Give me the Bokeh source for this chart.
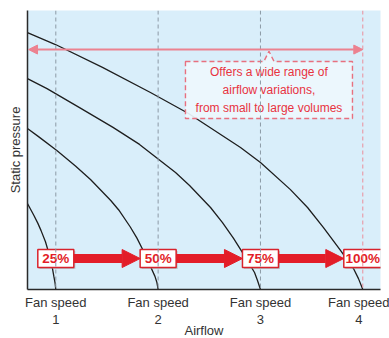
from bokeh.plotting import figure
from bokeh.models import (Range1d, FixedTicker, Arrow, NormalHead, Span,
                          LinearAxis, ColumnDataSource)
from bokeh.core.properties import value
from bokeh.embed import file_html
from bokeh.resources import INLINE

# ---------------- data ----------------
fan_speeds = [1, 2, 3, 4]
fan_tick_labels = ["Fan speed\n1", "Fan speed\n2", "Fan speed\n3", "Fan speed\n4"]
pct_labels = ["25%", "50%", "75%", "100%"]

# fan curves (airflow in fan-speed units, static pressure in % of axis)
curve1_x = [0.723, 0.785, 0.825, 0.856, 0.899, 0.940, 0.968, 0.981, 0.992, 1.0]
curve1_y = [30.8, 26.6, 23.7, 21.1, 17.1, 12.0, 7.4, 4.7, 2.5, 0.0]

curve2_x = [0.723, 0.831, 1.010, 1.192, 1.339, 1.537, 1.615, 1.728, 1.793, 1.855, 1.919, 1.969, 1.988, 2.0]
curve2_y = [57.7, 54.8, 49.8, 44.3, 39.4, 31.9, 28.5, 22.4, 18.4, 13.9, 8.8, 4.7, 2.5, 0.0]

curve3_x = [0.723, 0.914, 1.232, 1.559, 1.818, 2.170, 2.307, 2.512, 2.629, 2.737, 2.854, 2.942, 2.971, 3.0]
curve3_y = [75.6, 72.0, 65.2, 58.1, 52.0, 41.9, 37.3, 29.4, 24.0, 18.3, 11.5, 6.1, 3.2, 0.0]

curve4_x = [0.723, 0.997, 1.456, 1.925, 2.297, 2.805, 3.0, 3.293, 3.460, 3.616, 3.782, 3.909, 3.958, 4.0]
curve4_y = [92.1, 87.8, 79.6, 70.6, 63.1, 50.9, 45.5, 35.8, 29.4, 22.2, 14.0, 7.5, 3.9, 0.0]

callout_text = "Offers a wide range of\nairflow variations,\nfrom small to large volumes"

# ---------------- layout constants ----------------
X0, X1 = 0.7234, 4.173
Y0, Y1 = 0.0, 100.0
label_y = 11.1          # level of the percent boxes / red arrows
range_arrow_y = 86.0    # level of the pink range arrow
FONT = "Liberation Sans"
FRAME_W, FRAME_H = 353, 279
PX_PER_X = FRAME_W / (X1 - X0)
PX_PER_Y = FRAME_H / (Y1 - Y0)

p = figure(frame_width=FRAME_W, frame_height=FRAME_H,
           x_range=Range1d(X0, X1), y_range=Range1d(Y0, Y1),
           x_axis_type=None, y_axis_type=None,
           output_backend="svg", toolbar_location=None,
           min_border_left=27, min_border_right=9, min_border_top=10, min_border_bottom=49)
p.background_fill_color = "#d9eefa"
p.border_fill_color = "white"
p.outline_line_color = None
p.xgrid.visible = False
p.ygrid.visible = False

xaxis = LinearAxis(ticker=FixedTicker(ticks=fan_speeds),
                   major_label_overrides={k: t for k, t in zip(fan_speeds, fan_tick_labels)},
                   axis_label="Airflow")
xaxis.axis_line_color = "#2a2a2a"
xaxis.axis_line_width = 1.5
xaxis.major_tick_out = 0
xaxis.major_tick_in = 0
xaxis.minor_tick_out = 0
xaxis.minor_tick_in = 0
xaxis.major_label_standoff = 5
xaxis.major_label_text_font = FONT
xaxis.major_label_text_font_size = "13px"
xaxis.major_label_text_color = "#333333"
xaxis.major_label_text_line_height = 1.15
xaxis.axis_label_text_font = FONT
xaxis.axis_label_text_font_size = "13px"
xaxis.axis_label_text_font_style = "normal"
xaxis.axis_label_text_color = "#333333"
xaxis.axis_label_standoff = -7
p.add_layout(xaxis, "below")

yaxis = LinearAxis(ticker=FixedTicker(ticks=[]), axis_label="Static pressure")
yaxis.axis_line_color = "#2a2a2a"
yaxis.axis_line_width = 1.5
yaxis.major_tick_out = 0
yaxis.minor_tick_out = 0
yaxis.axis_label_text_font = FONT
yaxis.axis_label_text_font_size = "13px"
yaxis.axis_label_text_font_style = "normal"
yaxis.axis_label_text_color = "#333333"
yaxis.axis_label_standoff = 5
p.add_layout(yaxis, "left")

# dashed guide lines at fan speeds
for k in fan_speeds[:-1]:
    p.add_layout(Span(location=k, dimension="height", line_color="#8c9aa6",
                      line_dash="4 3", line_width=1))
p.add_layout(Span(location=fan_speeds[-1], dimension="height", line_color="#ec8f9b",
                  line_dash="4 3", line_width=1))

# fan curves
for cx, cy in [(curve1_x, curve1_y), (curve2_x, curve2_y),
               (curve3_x, curve3_y), (curve4_x, curve4_y)]:
    p.line(cx, cy, line_color="#1e1e1e", line_width=1.3)

# pink range arrow
pink = "#ec8290"
p.add_layout(Arrow(x_start=fan_speeds[-1], y_start=range_arrow_y, x_end=X0 + 0.01, y_end=range_arrow_y,
                   line_color=pink, line_width=2,
                   start=NormalHead(size=9, fill_color=pink, line_color=pink, line_width=1),
                   end=NormalHead(size=9, fill_color=pink, line_color=pink, line_width=1)))

# callout box with notch
bx0, bx1 = 2.267, 3.899
by0, by1 = 61.3, 81.7
nx = 3.083
nw = 0.05
ny = 85.4
p.patch([bx0, nx - nw, nx, nx + nw, bx1, bx1, bx0],
        [by1, by1, ny, by1, by1, by0, by0],
        fill_color="#eef7fd", fill_alpha=0.92,
        line_color="#e8707f", line_dash="5 3", line_width=1.4)
p.text(x=[(bx0 + bx1) / 2], y=[(by0 + by1) / 2], text=[callout_text],
       text_align="center", text_baseline="middle",
       text_font=value(FONT), text_font_size="12px", text_color="#e8333f",
       text_line_height=1.3)

# red progression arrows
red = "#e31d28"
for i in range(len(fan_speeds) - 1):
    half_next = 19 if i == len(fan_speeds) - 2 else 18
    p.add_layout(Arrow(x_start=fan_speeds[i] + 18 / PX_PER_X, y_start=label_y,
                       x_end=fan_speeds[i + 1] - half_next / PX_PER_X, y_end=label_y,
                       line_color=red, line_width=9,
                       end=NormalHead(size=18, fill_color=red, line_color=red, line_width=1)))

# percent boxes
widths = [36, 36, 36, 38]
src = ColumnDataSource(dict(x=fan_speeds, y=[label_y] * 4, t=pct_labels, w=widths,
                            xs=[k + 1.5 / PX_PER_X for k in fan_speeds],
                            ys=[label_y - 1.5 / PX_PER_Y] * 4))
p.rect(x="xs", y="ys", width="w", height=18, width_units="screen", height_units="screen",
       source=src, fill_color="#9a9a9a", fill_alpha=0.5, line_color=None)
p.rect(x="x", y="y", width="w", height=18, width_units="screen", height_units="screen",
       source=src, fill_color="white", line_color="#d8222c", line_width=1.5)
p.text(x="x", y="y", text="t", source=src, text_align="center", text_baseline="middle",
       text_font=value(FONT), text_font_size="13.5px", text_font_style="bold",
       text_color=red)

open("out.html", "w").write(file_html(p, INLINE))
